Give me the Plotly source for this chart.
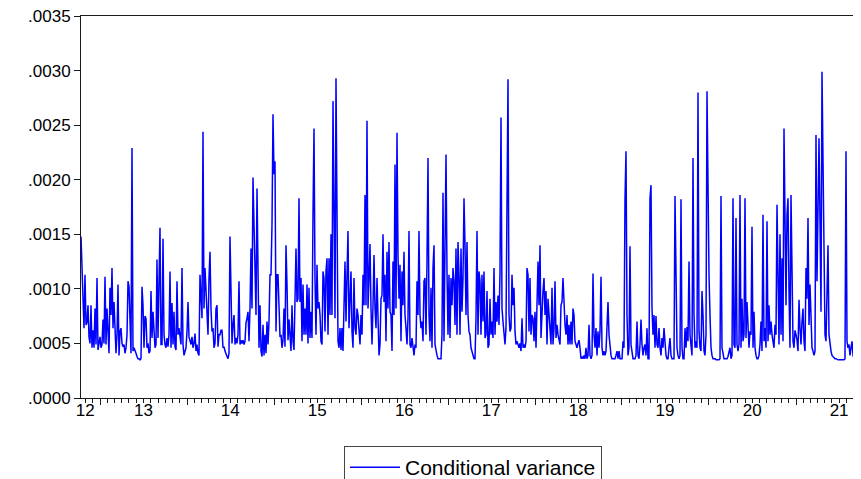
import pandas as pd
import plotly.graph_objects as go

# Conditional variance, in units of 1e-4, left to right
UNIT = 1e-4
cv_2012_13 = [14.8,12.5,8.5,6.4,11.3,6.7,6.9,8.5,5.6,5.0,
              8.5,4.6,6.2,4.6,8.2,4.9,11.0,4.4,5.0,5.6,
              4.6,4.9,7.2,5.0,11.1,4.9,8.2,5.8,4.1,10.1,
              7.6,11.9,6.4,8.8,6.4,4.1,5.8,10.4,3.9,6.1,
              6.4,5.0,4.7,4.9,4.1,4.6,5.8,10.7,10.2,7.6,
              4.1,22.9,4.3,4.6,4.4,4.1,3.8,3.6,3.6,3.5,
              3.6,10.2,8.5,4.6,7.5,7.3,4.6,5.0,4.1,4.3,
              9.8,5.5,7.9,6.5,4.6,4.9,12.7,5.5,12.5,15.6,
              4.9,4.9,14.6,5.8,4.9,4.6,5.5,4.7,5.8,11.6,
              4.6,8.7,4.9,7.9,4.7,4.4,10.7,5.8,6.4,5.5]
cv_2014 = [4.9,11.9,4.9,3.9,4.4,4.6,6.1,8.8,5.6,5.2,
           4.9,5.6,4.6,5.0,5.9,4.3,4.9,4.1,3.9,11.3,
           8.2,7.3,24.4,8.2,11.9,10.1,7.0,5.8,11.0,13.4,
           8.2,6.1,6.4,4.6,5.0,8.2,8.5,4.7,5.8,5.8,
           6.2,6.2,4.6,4.7,4.3,3.9,3.8,3.6,4.1,14.8,
           7.0,5.0,6.7,7.6,4.9,5.5,5.0,5.8,10.7,4.9,
           5.3,5.0,5.3,4.9,5.2,6.9,7.3,7.9,5.2,8.2,
           13.7,8.2,20.2,15.9,13.1,7.6,19.2,8.8,4.6,8.5,
           4.3,3.8,6.7,3.9,5.8,4.1,7.0,4.9,7.0,11.3,
           11.3,15.9,26.0,20.5,21.7,6.1,11.3,11.3,7.6,5.6]
cv_2015 = [5.8,4.6,5.3,8.2,4.7,14.0,10.4,5.3,7.2,5.5,
           4.3,8.5,5.2,4.4,8.2,13.7,8.8,9.1,18.3,8.8,
           11.0,5.2,10.4,5.8,8.2,5.8,10.4,5.0,10.1,5.5,
           7.9,5.5,16.8,24.7,11.0,5.8,12.2,8.2,8.8,7.6,
           5.2,4.9,11.6,11.0,6.1,11.6,12.8,5.8,12.8,7.6,
           15.0,7.6,27.2,13.1,7.3,29.3,13.7,5.2,4.6,6.4,
           4.4,6.4,4.3,7.6,12.5,7.0,10.1,15.3,6.4,8.8,
           11.6,6.1,4.6,11.0,6.4,5.8,8.2,7.6,5.8,4.9,
           7.6,5.8,11.3,8.5,18.6,8.5,25.4,8.2,11.0,14.1,
           8.2,4.9,8.5,13.1,8.2,6.4,11.0,5.8,3.9,4.9]
cv_2016 = [9.1,9.4,15.0,8.8,11.3,5.2,13.4,8.2,14.3,7.9,
           7.6,4.3,12.5,7.6,21.4,8.2,24.3,13.1,9.1,12.2,
           5.2,11.6,8.5,13.4,7.6,6.4,4.9,7.3,15.3,4.9,
           4.6,5.5,4.6,3.9,4.9,4.6,10.7,7.6,15.3,7.6,
           6.4,7.0,5.2,10.7,11.0,5.8,12.5,22.0,7.6,5.2,
           10.1,4.6,11.9,14.0,4.9,4.3,3.9,3.6,3.6,3.6,
           3.6,5.8,18.8,5.2,13.7,22.3,11.6,5.8,11.3,5.5,
           11.0,8.5,11.9,10.7,6.7,13.7,5.8,14.3,11.3,5.8,
           13.7,7.9,11.0,18.3,14.0,7.6,14.3,7.6,6.1,5.8,
           4.6,4.3,3.9,3.6,3.6,7.3,15.3,5.8,11.6,10.7]
cv_2017 = [5.8,11.3,7.0,11.6,5.5,5.8,9.8,4.6,4.9,9.1,
           5.8,7.0,5.5,11.9,5.8,8.8,7.0,9.4,6.7,11.6,
           25.7,8.2,7.0,5.8,4.9,6.4,21.1,29.2,7.6,6.1,
           6.4,11.3,8.5,10.1,6.1,4.9,5.2,4.9,4.6,5.0,
           4.3,7.3,4.6,4.9,4.6,5.2,11.9,11.3,6.1,11.0,
           5.8,7.6,7.3,5.2,7.9,4.6,10.7,12.5,8.5,14.0,
           5.5,8.2,9.8,11.0,7.6,9.8,4.9,9.1,7.9,6.4,
           4.9,10.1,4.9,6.4,10.7,5.5,6.7,5.8,5.2,4.9,
           8.5,8.8,11.0,8.2,6.7,5.8,7.6,4.9,6.7,4.9,
           7.0,4.9,8.2,7.6,5.2,4.9,4.6,5.0,5.3,4.6]
cv_2018_19 = [3.6,3.8,3.6,3.9,3.6,4.6,3.6,3.9,6.7,3.9,
              3.6,3.9,11.4,5.8,4.6,6.4,3.9,6.1,4.6,6.1,
              11.1,4.6,3.9,4.3,3.9,4.3,7.6,8.8,5.8,4.6,
              3.9,3.6,3.6,3.6,3.6,3.9,4.3,3.6,4.3,3.6,
              3.6,3.6,5.2,4.6,18.2,22.6,7.6,3.9,4.6,13.9,
              4.9,3.9,3.6,3.6,3.6,3.9,7.0,3.9,3.6,4.9,
              7.2,4.9,3.9,4.6,4.9,3.9,6.4,3.6,3.6,18.3,
              19.5,8.2,5.8,7.6,4.6,7.5,4.9,4.6,6.4,4.6,
              3.9,5.5,4.6,6.4,4.6,3.9,3.6,3.6,4.6,5.5,
              3.9,3.6,3.6,3.6,18.5,11.0,4.6,3.9,3.6,3.9]
cv_2019_20 = [18.2,4.6,3.6,3.6,6.4,4.6,6.5,5.2,12.5,5.8,
              4.6,3.9,22.0,7.6,4.6,5.2,4.6,28.0,6.1,4.6,
              4.3,9.8,7.6,4.3,3.9,5.8,28.1,18.9,11.3,7.6,
              4.6,3.9,3.6,3.6,3.6,3.5,3.5,3.5,3.5,3.6,
              18.5,4.6,3.9,3.6,3.6,3.6,3.6,3.8,4.3,4.6,
              3.6,3.9,18.3,4.9,4.6,16.5,4.9,4.3,4.9,18.6,
              4.6,9.1,5.2,5.8,18.3,5.5,8.8,6.4,4.6,6.1,
              5.8,15.7,4.6,7.9,4.6,3.9,3.6,3.6,3.9,4.9,
              7.0,4.3,16.8,5.2,6.4,4.6,16.2,5.2,8.5,5.8,
              7.0,5.8,4.9,4.6,6.7,5.8,17.7,8.8,4.9,15.0]
cv_2020_21 = [5.8,12.8,5.2,24.7,16.8,8.5,16.8,18.3,9.8,4.6,
              18.6,13.1,5.2,4.6,6.2,5.8,5.3,4.3,9.0,6.4,
              4.9,7.0,8.2,5.2,4.3,11.9,9.1,16.5,6.7,10.4,
              6.7,4.6,4.3,3.9,4.3,24.1,10.7,16.8,23.8,16.2,
              7.9,29.9,19.8,9.1,5.8,5.2,8.5,14.0,5.8,4.9,
              4.3,3.9,3.8,3.7,3.6,3.6,3.5,3.5,3.5,3.5,
              3.5,3.5,3.5,3.5,3.6,22.6,5.2,4.6,4.9,3.9,
              4.6,5.2,3.9,3.6,3.9,3.6,3.6,3.6,5.6,3.9,
              3.6]

START_DATE = "2012-10-12"
END_DATE = "2021-10-01"

y_tickvals = [0.0, 0.0005, 0.0010, 0.0015, 0.0020, 0.0025, 0.0030, 0.0035]
y_ticktext = [".0000", ".0005", ".0010", ".0015", ".0020", ".0025", ".0030", ".0035"]
x_label_dates = ["2012-10-30", "2013-07-01", "2014-07-01", "2015-07-01", "2016-07-01",
                 "2017-07-01", "2018-07-01", "2019-07-01", "2020-07-01", "2021-07-01"]
x_label_text = ["12", "13", "14", "15", "16", "17", "18", "19", "20", "21"]

series = (cv_2012_13 + cv_2014 + cv_2015 + cv_2016 + cv_2017 +
          cv_2018_19 + cv_2019_20 + cv_2020_21)
values = [v * UNIT for v in series]
dates = pd.date_range(START_DATE, END_DATE, periods=len(values))

FONT = "Liberation Sans, Arial, sans-serif"
AXC = "#1a1a1a"

fig = go.Figure()
fig.add_trace(go.Scatter(x=dates, y=values, mode="lines", name="Conditional variance",
                         line=dict(color="#0000FF", width=1.5)))
# empty helper trace so the year-label axis is created
fig.add_trace(go.Scatter(x=[dates[0]], y=[None], xaxis="x2", mode="lines",
                         showlegend=False, hoverinfo="skip"))

# the page body adds an 8px offset, so the figure is 8px smaller than the window
fig.update_layout(
    width=853, height=471,
    margin=dict(l=73, r=0, t=8, b=81, autoexpand=False),
    paper_bgcolor="white", plot_bgcolor="white",
    font=dict(family=FONT, size=17, color="black"),
    showlegend=True,
    legend=dict(x=(473 - 81) / 780, xanchor="center", y=-0.126, yanchor="top",
                orientation="h", bordercolor="#444", borderwidth=1, itemwidth=50,
                font=dict(size=21, color="black"), bgcolor="white"),
    xaxis=dict(type="date", range=[dates[0], dates[-1]],
               tickmode="linear", tick0="2013-01-01", dtick="M12",
               showticklabels=False,
               ticks="outside", ticklen=6, tickcolor=AXC, tickwidth=1,
               showline=True, linecolor=AXC, linewidth=1, mirror=True,
               showgrid=False, zeroline=False,
               minor=dict(dtick="M1", tick0="2013-01-01", ticks="outside",
                          ticklen=4, tickcolor=AXC, tickwidth=1, showgrid=False)),
    xaxis2=dict(type="date", range=[dates[0], dates[-1]], overlaying="x", anchor="y",
                side="bottom", tickmode="array", tickvals=x_label_dates,
                ticktext=x_label_text, ticks="", showline=False, showgrid=False,
                zeroline=False, ticklabeloverflow="allow",
                tickfont=dict(size=17, color="black")),
    yaxis=dict(range=[0, 0.0035], tickmode="array", tickvals=y_tickvals,
               ticktext=y_ticktext, ticks="outside", ticklen=6, tickcolor=AXC,
               showline=True, linecolor=AXC, linewidth=1, mirror=False,
               showgrid=False, zeroline=False, ticklabeloverflow="allow",
               tickfont=dict(size=17, color="black")),
)

fig.write_html("out.html")
